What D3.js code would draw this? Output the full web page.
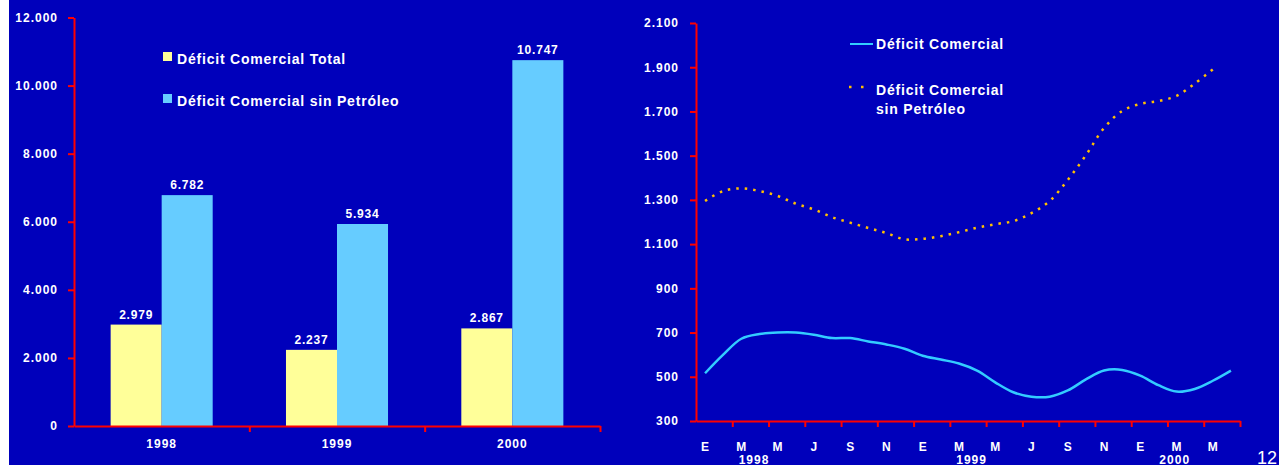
<!DOCTYPE html>
<html>
<head>
<meta charset="utf-8">
<script src="https://cdn.jsdelivr.net/npm/d3@7"></script>
<style>
  html, body { margin: 0; padding: 0; background: #ffffff; }
  svg text { font-family: "Liberation Sans", Arial, sans-serif; font-weight: bold; fill: #ffffff; }
</style>
</head>
<body>
<svg id="chart" width="1279" height="467"></svg>
<script>
// ---- Annual trade deficit (millions) ----
const years = ["1998", "1999", "2000"];
const deficitTotal = [2979, 2237, 2867];
const deficitSinPetroleo = [6782, 5934, 10747];
const barTicks = [0, 2000, 4000, 6000, 8000, 10000, 12000];

// ---- Monthly trade deficit, Jan 1998 – Jun 2000 ----
const monthLabels = ["E", "M", "M", "J", "S", "N", "E", "M", "M", "J", "S", "N", "E", "M", "M"];
const yearStarts = [{ year: "1998", month: 0 }, { year: "1999", month: 12 }, { year: "2000", month: 24 }];
const monthlyDeficit = [
  516, 600, 672, 693, 700, 700, 690, 675, 675, 660, 646, 627,
  595, 578, 560, 528, 475, 430, 410, 410, 438, 488, 528, 531,
  505, 462, 433, 445, 482, 528
];
const monthlySinPetroleo = [
  1295, 1340, 1352, 1340, 1318, 1283, 1257, 1222, 1197, 1173, 1150, 1122,
  1124, 1136, 1154, 1174, 1190, 1204, 1240, 1295, 1390, 1502, 1625, 1702,
  1734, 1747, 1770, 1826, 1890
];
const lineTicks = [300, 500, 700, 900, 1100, 1300, 1500, 1700, 1900, 2100];

const C = {
  bg: "#0000bb",
  axis: "#ff0000",
  yellow: "#ffff99",
  cyan: "#66ccff",
  line: "#33ccff",
  dots: "#ffc000"
};

const fmt = d3.formatLocale({ decimal: ",", thousands: ".", grouping: [3], currency: ["", ""] }).format(",d");

const svg = d3.select("#chart");
svg.append("rect").attr("x", 9).attr("y", 0).attr("width", 1270).attr("height", 465).attr("fill", C.bg);

function styleAxis(g) {
  g.selectAll("path.domain").attr("stroke", C.axis).attr("stroke-width", 2);
  g.selectAll(".tick line").attr("stroke", C.axis).attr("stroke-width", 2);
  g.selectAll(".tick text").attr("fill", "#ffffff")
    .style("font-family", '"Liberation Sans", Arial, sans-serif')
    .style("font-weight", "bold");
}

// ================= Left: grouped bars =================
const bx = d3.scaleBand().domain(years).range([74, 600]).paddingInner(0.418).paddingOuter(0.209);
const bSeries = d3.scaleBand().domain([0, 1]).range([0, bx.bandwidth()]);
const by = d3.scaleLinear().domain([0, 12000]).range([426, 17.5]);

const gLeftY = svg.append("g").attr("transform", "translate(74,0)")
  .call(d3.axisLeft(by).tickValues(barTicks).tickSize(6).tickSizeOuter(0).tickPadding(10).tickFormat(fmt));
gLeftY.selectAll(".tick text").style("font-size", "12px").style("letter-spacing", "1px");
styleAxis(gLeftY);

const barData = years.map((y, i) => ({ year: y, values: [deficitTotal[i], deficitSinPetroleo[i]] }));
const barColors = [C.yellow, C.cyan];

const groups = svg.append("g").selectAll("g").data(barData).join("g")
  .attr("transform", d => `translate(${bx(d.year)},0)`);
groups.selectAll("rect").data(d => d.values.map((v, k) => ({ v, k }))).join("rect")
  .attr("x", d => bSeries(d.k))
  .attr("y", d => by(d.v))
  .attr("width", bSeries.bandwidth())
  .attr("height", d => by(0) - by(d.v))
  .attr("fill", d => barColors[d.k]);
groups.selectAll("text").data(d => d.values.map((v, k) => ({ v, k }))).join("text")
  .attr("x", d => bSeries(d.k) + bSeries.bandwidth() / 2)
  .attr("y", d => by(d.v) - 6)
  .attr("text-anchor", "middle")
  .style("font-size", "12px")
  .style("letter-spacing", "0.8px")
  .text(d => fmt(d.v));

// x axis with boundary ticks
const bxLin = d3.scaleLinear().domain([0, years.length]).range([74, 600]);
const gLeftX = svg.append("g").attr("transform", "translate(0,426)")
  .call(d3.axisBottom(bxLin).tickValues(d3.range(1, years.length + 1)).tickSize(6).tickSizeOuter(0).tickFormat(""));
styleAxis(gLeftX);
svg.append("g").selectAll("text").data(years).join("text")
  .attr("x", d => bx(d) + bx.bandwidth() / 2)
  .attr("y", 448)
  .attr("text-anchor", "middle")
  .style("font-size", "12px")
  .style("letter-spacing", "1px")
  .text(d => d);

// legend
const legL = [
  { label: "Déficit Comercial Total", color: C.yellow, y: 60 },
  { label: "Déficit Comercial sin Petróleo", color: C.cyan, y: 102 }
];
const gLegL = svg.append("g");
gLegL.selectAll("rect").data(legL).join("rect")
  .attr("x", 163).attr("y", d => d.y - 8).attr("width", 9).attr("height", 9).attr("fill", d => d.color);
gLegL.selectAll("text").data(legL).join("text")
  .attr("x", 177).attr("y", d => d.y + 4)
  .style("font-size", "14px").style("letter-spacing", "0.8px")
  .text(d => d.label);

// ================= Right: monthly lines =================
const nMonths = 30;
const mx = d3.scaleLinear().domain([0, nMonths]).range([696, 1240]);
const my = d3.scaleLinear().domain([300, 2100]).range([421, 23]);

const gRightY = svg.append("g").attr("transform", "translate(696,0)")
  .call(d3.axisLeft(my).tickValues(lineTicks).tickSize(6).tickSizeOuter(0).tickPadding(11).tickFormat(fmt));
gRightY.selectAll(".tick text").style("font-size", "12px").style("letter-spacing", "1px");
styleAxis(gRightY);

const gRightX = svg.append("g").attr("transform", "translate(0,421)")
  .call(d3.axisBottom(mx).tickValues(d3.range(2, nMonths + 1, 2)).tickSize(6).tickSizeOuter(0).tickFormat(""));
styleAxis(gRightX);

svg.append("g").selectAll("text").data(monthLabels).join("text")
  .attr("x", (d, i) => mx(i * 2 + 0.5))
  .attr("y", 451)
  .attr("text-anchor", "middle")
  .style("font-size", "12px")
  .text(d => d);

// year captions sit under the early months, kept clear of the axis end
svg.append("g").selectAll("text").data(yearStarts).join("text")
  .attr("x", d => Math.min(mx(d.month + 3.2), mx(nMonths - 3.6)))
  .attr("y", 464)
  .attr("text-anchor", "middle")
  .style("font-size", "12px")
  .style("letter-spacing", "1px")
  .text(d => d.year);

const lineGen = d3.line()
  .x((d, i) => mx(i + 0.5))
  .y(d => my(d))
  .curve(d3.curveCatmullRom.alpha(0.5));

svg.append("path").datum(monthlyDeficit)
  .attr("d", lineGen)
  .attr("fill", "none")
  .attr("stroke", C.line)
  .attr("stroke-width", 2.5);

svg.append("path").datum(monthlySinPetroleo)
  .attr("d", lineGen)
  .attr("fill", "none")
  .attr("stroke", C.dots)
  .attr("stroke-width", 2.5)
  .attr("stroke-dasharray", "2.5 6");

// legend
const gLegR = svg.append("g");
gLegR.append("line").attr("x1", 850).attr("x2", 873).attr("y1", 44).attr("y2", 44)
  .attr("stroke", C.line).attr("stroke-width", 2);
gLegR.append("text").attr("x", 876).attr("y", 49)
  .style("font-size", "14px").style("letter-spacing", "0.8px").text("Déficit Comercial");
gLegR.append("line").attr("x1", 849).attr("x2", 865).attr("y1", 87).attr("y2", 87)
  .attr("stroke", C.dots).attr("stroke-width", 2.5).attr("stroke-dasharray", "2.5 9.5");
const t2 = gLegR.append("text").attr("x", 876).attr("y", 95)
  .style("font-size", "14px").style("letter-spacing", "0.8px");
t2.append("tspan").attr("x", 876).text("Déficit Comercial");
t2.append("tspan").attr("x", 876).attr("dy", 19).text("sin Petróleo");

// page number
svg.append("text").attr("x", 1257).attr("y", 464)
  .style("font-size", "18px").style("font-weight", "normal").attr("fill", "#dddddd").text("12");
</script>
</body>
</html>
